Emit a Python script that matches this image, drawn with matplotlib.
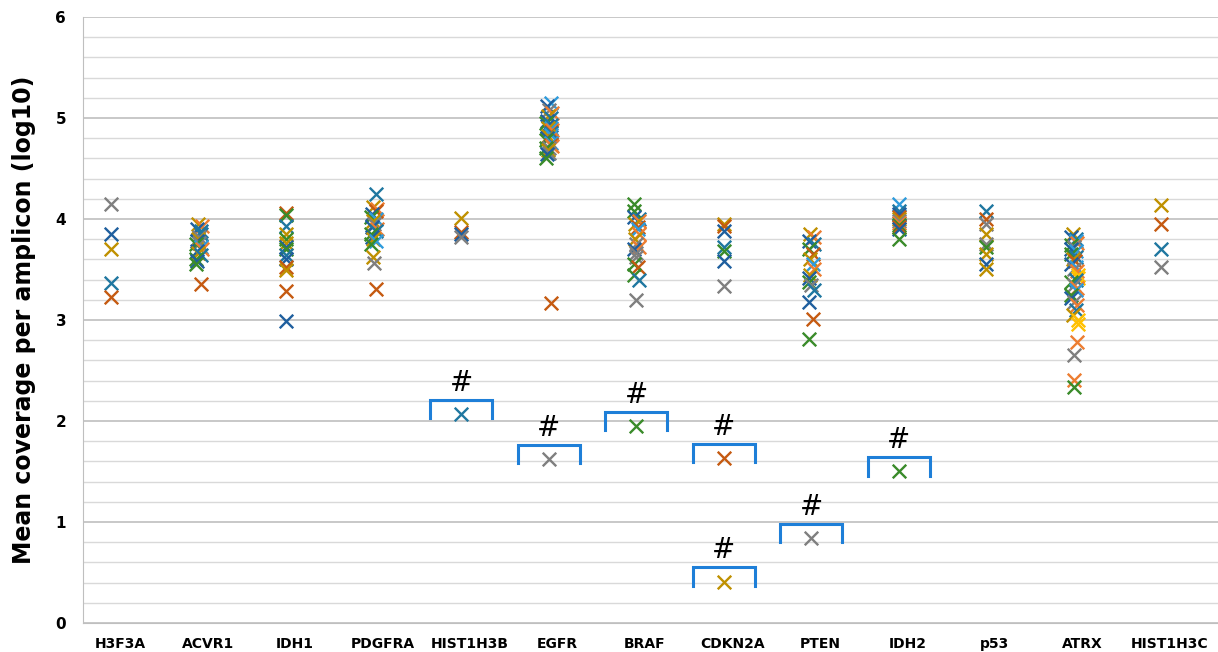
import matplotlib.pyplot as plt
from matplotlib.ticker import MultipleLocator

# colour codes used in the point lists below
palette = {
    'd': '#1F5F9E',  # dark blue
    'r': '#C55A11',  # rust
    'g': '#7F7F7F',  # gray
    'y': '#BF9000',  # gold
    't': '#1F77A0',  # teal blue
    'n': '#3A8B2A',  # green
    'o': '#ED7D31',  # orange
    'b': '#2E9BDC',  # bright blue
    'Y': '#FFC000',  # yellow
}
# small sideways shift per series colour, used for the crowded columns only
shift = {'d': -0.025, 'r': 0.02, 'g': 0.0, 'y': -0.01, 't': 0.03,
         'n': -0.03, 'o': 0.035, 'b': 0.025, 'Y': 0.045}

genes = ['H3F3A', 'ACVR1', 'IDH1', 'PDGFRA', 'HIST1H3B', 'EGFR', 'BRAF',
         'CDKN2A', 'PTEN', 'IDH2', 'p53', 'ATRX', 'HIST1H3C']

# (value, colour) per gene
H3F3A = [(4.15, 'g'), (3.85, 'd'), (3.70, 'y'), (3.37, 't'), (3.23, 'r')]
ACVR1 = [(3.95, 'y'), (3.93, 'o'), (3.90, 'd'), (3.88, 't'), (3.85, 't'), (3.82, 'g'),
         (3.80, 'y'), (3.78, 'd'), (3.76, 'g'), (3.75, 'n'), (3.72, 'b'), (3.70, 'o'),
         (3.68, 'd'), (3.66, 'y'), (3.64, 't'), (3.60, 'n'), (3.58, 'd'), (3.55, 'n'),
         (3.36, 'r')]
IDH1 = [(4.06, 'r'), (4.04, 'n'), (3.93, 't'), (3.85, 'y'), (3.80, 'n'), (3.76, 'y'),
        (3.72, 'd'), (3.70, 'n'), (3.64, 't'), (3.60, 'd'), (3.52, 'r'), (3.49, 'y'),
        (3.29, 'r'), (2.99, 'd')]
PDGFRA = [(4.25, 't'), (4.12, 'y'), (4.10, 'o'), (4.08, 'r'), (4.05, 'd'), (4.02, 'n'),
          (4.00, 'b'), (3.98, 'y'), (3.95, 'g'), (3.92, 'd'), (3.90, 'o'), (3.88, 't'),
          (3.85, 'n'), (3.82, 'd'), (3.80, 'y'), (3.78, 'b'), (3.75, 'n'), (3.62, 'y'),
          (3.56, 'g'), (3.31, 'r')]
HIST1H3B = [(4.01, 'y'), (3.87, 'r'), (3.85, 'd'), (3.82, 'g'), (2.07, 't')]
EGFR = [(5.15, 'b'), (5.12, 'd'), (5.08, 'g'), (5.05, 'o'), (5.02, 'y'), (5.00, 't'),
        (4.97, 'd'), (4.95, 'n'), (4.93, 't'), (4.92, 'd'), (4.90, 'b'), (4.90, 'y'),
        (4.88, 'o'), (4.86, 'r'), (4.85, 't'), (4.83, 'b'), (4.82, 'y'), (4.80, 'd'),
        (4.78, 'n'), (4.75, 'b'), (4.73, 'r'), (4.72, 'o'), (4.70, 'g'), (4.70, 'n'),
        (4.68, 'y'), (4.65, 'g'), (4.64, 'd'), (4.60, 'n'), (3.17, 'r'), (1.62, 'g')]
BRAF = [(4.15, 'n'), (4.08, 'n'), (4.02, 'd'), (4.00, 't'), (3.98, 'o'), (3.95, 'y'),
        (3.92, 'r'), (3.90, 'b'), (3.85, 'o'), (3.80, 'y'), (3.75, 'g'), (3.72, 'o'),
        (3.70, 'd'), (3.66, 'g'), (3.62, 'g'), (3.55, 'n'), (3.52, 'r'), (3.45, 'n'),
        (3.40, 't'), (3.20, 'g'), (1.95, 'n')]
CDKN2A = [(3.95, 'y'), (3.93, 'r'), (3.88, 'd'), (3.72, 't'), (3.68, 'n'), (3.58, 'd'),
          (3.34, 'g'), (1.63, 'r'), (0.41, 'y')]
PTEN = [(3.85, 'y'), (3.82, 'o'), (3.78, 'd'), (3.75, 't'), (3.70, 'n'), (3.65, 'r'),
        (3.60, 'y'), (3.55, 'b'), (3.50, 'o'), (3.45, 'y'), (3.42, 'd'), (3.38, 'n'),
        (3.35, 'g'), (3.30, 't'), (3.18, 'd'), (3.01, 'r'), (2.81, 'n'), (0.84, 'g')]
IDH2 = [(4.15, 'b'), (4.08, 't'), (4.05, 'd'), (4.02, 'r'), (4.00, 'y'), (3.98, 'g'),
        (3.96, 'o'), (3.94, 'n'), (3.92, 'r'), (3.90, 'd'), (3.80, 'n'), (1.50, 'n')]
p53 = [(4.08, 't'), (4.00, 'r'), (3.95, 'g'), (3.85, 'y'), (3.75, 'g'), (3.72, 'n'),
       (3.65, 'y'), (3.55, 'd'), (3.50, 'y')]
ATRX = [(3.85, 'y'), (3.82, 'd'), (3.80, 't'), (3.78, 'b'), (3.76, 'o'), (3.74, 'n'),
        (3.72, 'g'), (3.70, 'd'), (3.68, 'b'), (3.65, 'n'), (3.62, 't'), (3.60, 'y'),
        (3.58, 'r'), (3.55, 'd'), (3.52, 'b'), (3.50, 'g'), (3.48, 'o'), (3.45, 'Y'),
        (3.42, 'Y'), (3.40, 't'), (3.38, 'n'), (3.35, 'g'), (3.32, 'o'), (3.30, 'b'),
        (3.25, 'n'), (3.22, 'd'), (3.18, 'g'), (3.15, 'o'), (3.10, 't'), (3.05, 'y'),
        (3.00, 'Y'), (2.96, 'Y'), (2.78, 'o'), (2.65, 'g'), (2.41, 'o'), (2.34, 'n')]
HIST1H3C = [(4.14, 'y'), (3.95, 'r'), (3.70, 't'), (3.52, 'g')]

points = [H3F3A, ACVR1, IDH1, PDGFRA, HIST1H3B, EGFR, BRAF,
          CDKN2A, PTEN, IDH2, p53, ATRX, HIST1H3C]

# low outliers flagged with "#": (gene index, value)
flagged = [(4, 2.07), (5, 1.62), (6, 1.95), (7, 1.63), (7, 0.41), (8, 0.84), (9, 1.50)]

fig = plt.figure(figsize=(12.18, 6.52), dpi=100)
ax = fig.add_axes([0.068, 0.0445, 0.932, 0.9295])

for i, pts in enumerate(points):
    crowded = len(pts) > 15
    for v, c in pts:
        dx = shift[c] if (crowded and v > 2.5) else 0.0
        ax.scatter(i + dx, v, marker='x', s=95, linewidths=1.7, color=palette[c], zorder=3)

# brackets + hash marks
for i, v in flagged:
    top = v + 0.14
    ax.plot([i - 0.355, i - 0.355, i + 0.355, i + 0.355],
            [top - 0.18, top, top, top - 0.18],
            color='#1E7FD8', lw=2.2, solid_joinstyle='miter', zorder=4)
    ax.text(i, top + 0.03, '#', ha='center', va='bottom', fontsize=20, zorder=4)

ax.set_xlim(-0.326, 12.65)
ax.set_ylim(0, 6)
ax.yaxis.set_major_locator(MultipleLocator(1))
ax.yaxis.set_minor_locator(MultipleLocator(0.2))
ax.grid(which='minor', axis='y', color='#D9D9D9', lw=1)
ax.grid(which='major', axis='y', color='#BFBFBF', lw=1.2)
ax.set_axisbelow(True)

ax.set_xticks([i + 0.1 for i in range(len(genes))])
ax.set_xticklabels(genes, fontsize=10, fontweight='bold')
ax.tick_params(axis='x', length=0, pad=10)
ax.tick_params(axis='y', which='both', length=0, pad=12, labelsize=11)
for lab in ax.get_yticklabels():
    lab.set_fontweight('bold')

for s in ['top', 'right']:
    ax.spines[s].set_visible(False)
ax.spines['left'].set_color('#BFBFBF')
ax.spines['bottom'].set_color('#BFBFBF')

ax.set_ylabel('Mean coverage per amplicon (log10)', fontsize=17, fontweight='bold', labelpad=14)

fig.savefig('out.png', dpi=100)
